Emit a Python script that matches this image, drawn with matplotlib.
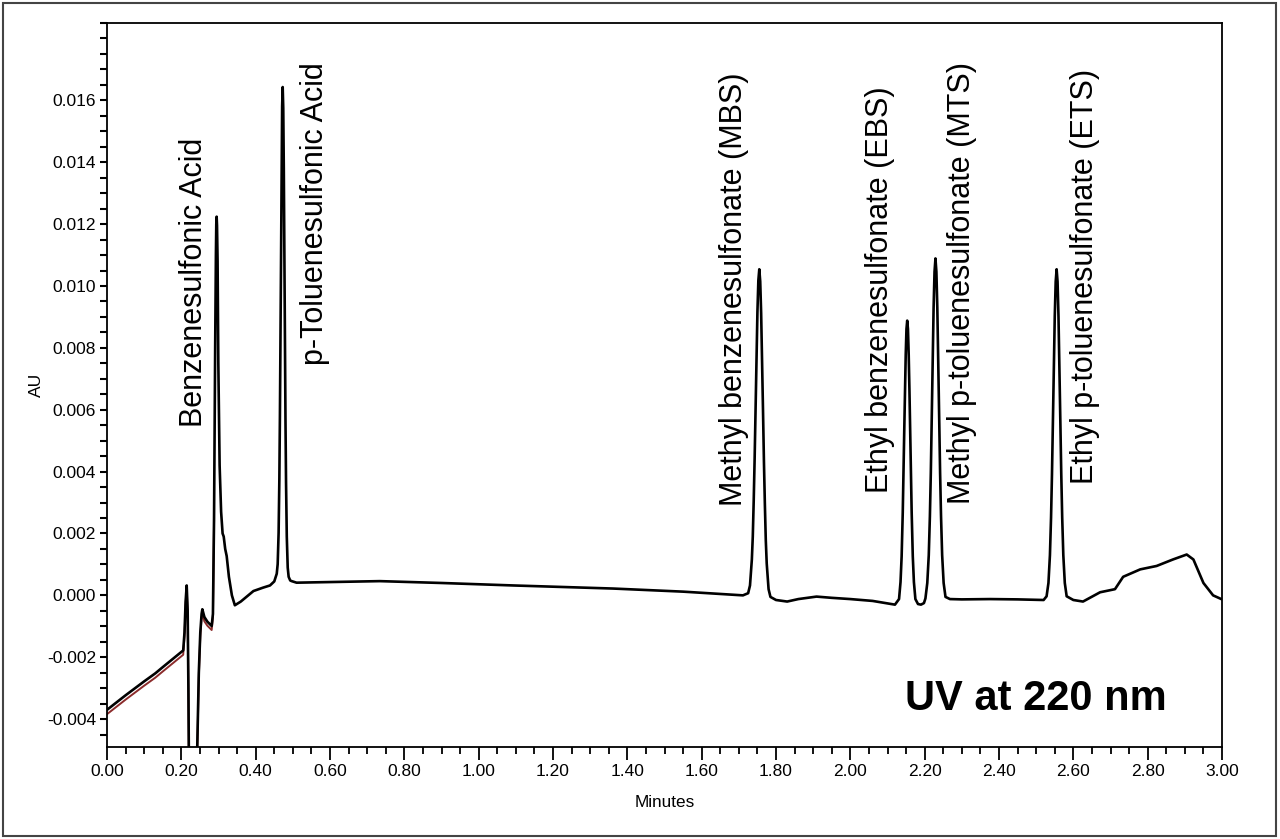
import matplotlib.pyplot as plt
from matplotlib.patches import Rectangle
from matplotlib.ticker import MultipleLocator

plt.rcParams['font.family'] = ['Liberation Sans', 'DejaVu Sans']

# chromatogram trace: (minutes, AU)
trace = [
    (0.000, -0.00370), (0.050, -0.00323), (0.100, -0.00278), (0.130, -0.00252),
    (0.150, -0.00232), (0.205, -0.00178),
    (0.2085, -0.00120), (0.2115, -0.00020), (0.2144, 0.00032), (0.2170, -0.00050),
    (0.2190, -0.00300), (0.2210, -0.00650), (0.2300, -0.00900), (0.2400, -0.00650),
    (0.2430, -0.00480), (0.2470, -0.00250), (0.2510, -0.00120), (0.2545, -0.00060),
    (0.2565, -0.00045), (0.2620, -0.00070), (0.2700, -0.00085), (0.2816, -0.00099),
    (0.2850, -0.00060), (0.2880, 0.00250), (0.2910, 0.00800), (0.2930, 0.01100),
    (0.2940, 0.01200), (0.2950, 0.01224), (0.2960, 0.01195), (0.2975, 0.01080),
    (0.2995, 0.00750), (0.3030, 0.00420), (0.3070, 0.00270), (0.3110, 0.00200),
    (0.3140, 0.00190), (0.3180, 0.00150), (0.3220, 0.00127), (0.3280, 0.00060),
    (0.3360, 0.00000), (0.3440, -0.00032), (0.3600, -0.00020), (0.3940, 0.00014),
    (0.4200, 0.00025), (0.4385, 0.00032), (0.4500, 0.00045), (0.4567, 0.00070),
    (0.4592, 0.00101), (0.4617, 0.00202), (0.4637, 0.00375), (0.4652, 0.00577),
    (0.4667, 0.00834), (0.4682, 0.01121), (0.4697, 0.01388), (0.4712, 0.01580),
    (0.4727, 0.01643), (0.4742, 0.01575), (0.4757, 0.01380), (0.4772, 0.01110),
    (0.4787, 0.00820), (0.4802, 0.00565), (0.4817, 0.00365), (0.4837, 0.00190),
    (0.4862, 0.00090), (0.4887, 0.00060), (0.4930, 0.00048), (0.4969, 0.00046),
    (0.5100, 0.00041), (0.6000, 0.00043), (0.7340, 0.00046), (0.9000, 0.00040),
    (1.0930, 0.00032), (1.3620, 0.00022), (1.5500, 0.00012), (1.7110, 0.00000),
    (1.7250, 0.00007), (1.7300, 0.00032), (1.7350, 0.00116), (1.7375, 0.00190),
    (1.7400, 0.00306), (1.7425, 0.00443), (1.7450, 0.00606), (1.7475, 0.00769),
    (1.7500, 0.00917), (1.7525, 0.01018), (1.7550, 0.01054), (1.7575, 0.01015),
    (1.7600, 0.00912), (1.7625, 0.00762), (1.7650, 0.00598), (1.7675, 0.00433),
    (1.7700, 0.00295), (1.7725, 0.00178), (1.7750, 0.00103), (1.7800, 0.00020),
    (1.7850, -0.00005), (1.8000, -0.00015), (1.8300, -0.00020), (1.8600, -0.00012),
    (1.9090, -0.00004), (1.9500, -0.00008), (2.0000, -0.00012), (2.0600, -0.00018),
    (2.1200, -0.00030), (2.1310, -0.00012), (2.1350, 0.00043), (2.1380, 0.00126),
    (2.1410, 0.00268), (2.1430, 0.00392), (2.1450, 0.00530), (2.1470, 0.00663),
    (2.1490, 0.00778), (2.1510, 0.00861), (2.1530, 0.00888), (2.1550, 0.00861),
    (2.1570, 0.00778), (2.1590, 0.00663), (2.1610, 0.00530), (2.1630, 0.00392),
    (2.1650, 0.00268), (2.1680, 0.00126), (2.1710, 0.00043), (2.1750, -0.00012),
    (2.1820, -0.00028), (2.1900, -0.00030), (2.1980, -0.00025), (2.2020, -0.00010),
    (2.2070, 0.00040), (2.2110, 0.00130), (2.2140, 0.00255), (2.2165, 0.00395),
    (2.2190, 0.00575), (2.2215, 0.00761), (2.2240, 0.00929), (2.2265, 0.01046),
    (2.2290, 0.01089), (2.2315, 0.01046), (2.2340, 0.00929), (2.2365, 0.00761),
    (2.2390, 0.00575), (2.2415, 0.00395), (2.2440, 0.00255), (2.2470, 0.00130),
    (2.2510, 0.00040), (2.2560, -0.00005), (2.2680, -0.00012), (2.3000, -0.00013),
    (2.3760, -0.00012), (2.4500, -0.00013), (2.5200, -0.00015), (2.5280, -0.00003),
    (2.5330, 0.00040), (2.5370, 0.00130), (2.5400, 0.00252), (2.5425, 0.00391),
    (2.5450, 0.00563), (2.5475, 0.00742), (2.5500, 0.00902), (2.5525, 0.01014),
    (2.5550, 0.01054), (2.5575, 0.01014), (2.5600, 0.00902), (2.5625, 0.00742),
    (2.5650, 0.00563), (2.5675, 0.00391), (2.5700, 0.00252), (2.5730, 0.00130),
    (2.5770, 0.00040), (2.5820, -0.00003), (2.6000, -0.00015), (2.6260, -0.00020),
    (2.6720, 0.00010), (2.7120, 0.00020), (2.7340, 0.00060), (2.7800, 0.00084),
    (2.8240, 0.00095), (2.8680, 0.00116), (2.9050, 0.00132), (2.9230, 0.00116),
    (2.9500, 0.00040), (2.9760, 0.00000), (3.0000, -0.00013),
]
time_min = [p[0] for p in trace]
absorbance = [p[1] for p in trace]

# second (red) injection, visible only in the early part of the run
red_trace = [
    (0.000, -0.00384), (0.050, -0.00337), (0.100, -0.00292), (0.130, -0.00266),
    (0.150, -0.00246), (0.205, -0.00192), (0.2085, -0.00132), (0.2115, -0.00030),
    (0.2144, 0.00026), (0.2170, -0.00060), (0.2190, -0.00310), (0.2210, -0.00660),
    (0.2300, -0.00900), (0.2400, -0.00660), (0.2430, -0.00490), (0.2470, -0.00262),
    (0.2510, -0.00132), (0.2545, -0.00072), (0.2565, -0.00058), (0.2620, -0.00084),
    (0.2700, -0.00098), (0.2816, -0.00112), (0.2850, -0.00070), (0.2880, 0.00240),
]
red_time = [p[0] for p in red_trace]
red_abs = [p[1] for p in red_trace]

peak_names = ['Benzenesulfonic Acid', 'p-Toluenesulfonic Acid',
              'Methyl benzenesulfonate (MBS)', 'Ethyl benzenesulfonate (EBS)',
              'Methyl p-toluenesulfonate (MTS)', 'Ethyl p-toluenesulfonate (ETS)']
label_x = [0.234, 0.560, 1.687, 2.080, 2.300, 2.631]
label_y = [0.00545, 0.00745, 0.00290, 0.00332, 0.00294, 0.00361]

fig = plt.figure(figsize=(12.8, 8.39), dpi=100)
ax = fig.add_axes([0.0836, 0.1097, 0.8711, 0.8629])

ax.plot(red_time, red_abs, color='#8b2b2b', lw=1.4)
ax.plot(time_min, absorbance, color='black', lw=1.9)

for name, x, y in zip(peak_names, label_x, label_y):
    ax.text(x, y, name, rotation=90, ha='center', va='bottom', fontsize=22)

ax.text(2.147, -0.00371, 'UV at 220 nm', fontsize=30, fontweight='bold',
        ha='left', va='baseline')

ax.set_xlim(0, 3.0)
ax.set_ylim(-0.0049, 0.0185)
ax.xaxis.set_major_locator(MultipleLocator(0.2))
ax.xaxis.set_minor_locator(MultipleLocator(0.05))
ax.yaxis.set_major_locator(MultipleLocator(0.002))
ax.yaxis.set_minor_locator(MultipleLocator(0.0005))
ax.xaxis.set_major_formatter(lambda v, p: '%.2f' % v)
ax.yaxis.set_major_formatter(lambda v, p: '' if v > 0.017 else '%.3f' % v)

ax.tick_params(axis='x', which='major', length=9, width=1.3, labelsize=12.5, pad=3)
ax.tick_params(axis='x', which='minor', length=5, width=1.3)
ax.tick_params(axis='y', which='both', length=5, width=1.5, labelsize=12.5, pad=3)
for s in ax.spines.values():
    s.set_linewidth(1.3)

ax.set_xlabel('Minutes', fontsize=12.3, labelpad=12)
ax.set_ylabel('AU', fontsize=12.5, labelpad=2)

# frame around the whole picture
fig.patches.append(Rectangle((0.002, 0.003), 0.995, 0.994, transform=fig.transFigure,
                             fill=False, edgecolor='#444444', lw=1.5))

fig.savefig('out.png', dpi=100)
